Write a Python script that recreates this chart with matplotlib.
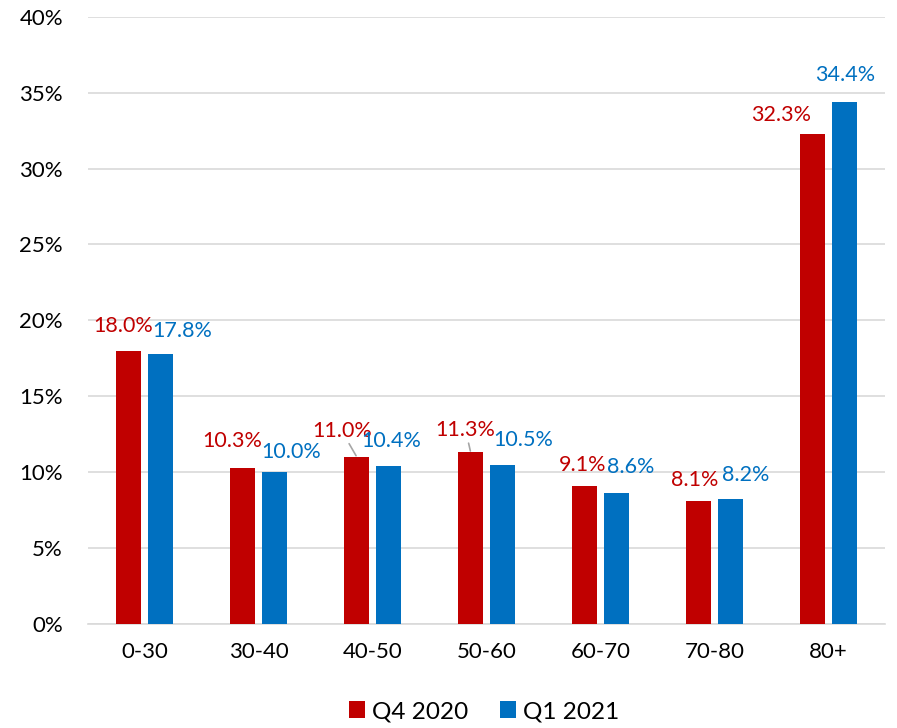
import numpy as np
import matplotlib
matplotlib.use("Agg")
import matplotlib.pyplot as plt

plt.rcParams['font.family'] = ['Lato', 'DejaVu Sans']

# data
categories = ['0-30', '30-40', '40-50', '50-60', '60-70', '70-80', '80+']
q4_2020 = [18.0, 10.3, 11.0, 11.3, 9.1, 8.1, 32.3]
q1_2021 = [17.8, 10.0, 10.4, 10.5, 8.6, 8.2, 34.4]

RED = '#C00000'
BLUE = '#0070C0'

# label offsets in pixels (dx, dy) relative to the bar top, tuned by eye
q4_offsets = [(-6, 25), (-11, 27), (-15, 26), (-5, 22), (-2, 21), (-4, 21), (-31, 19)]
q1_offsets = [(21, 23), (16, 20), (3, 25), (21, 25), (14, 26), (15, 24), (1, 27)]
leader = [False, False, True, True, False, False, False]

fig = plt.figure(figsize=(8.97, 7.28), dpi=100)
ax = fig.add_axes([0.098, 0.143, 0.889, 0.834])

x = np.arange(len(categories))
w = 0.22
off = 0.14
b1 = ax.bar(x - off, q4_2020, w, color=RED, label='Q4 2020', zorder=3)
b2 = ax.bar(x + off, q1_2021, w, color=BLUE, label='Q1 2021', zorder=3)

for i in range(len(categories)):
    dx, dy = q4_offsets[i]
    kw = {}
    if leader[i]:
        kw['arrowprops'] = dict(arrowstyle='-', color='#A6A6A6', lw=1.2,
                                shrinkA=0, shrinkB=1)
    ax.annotate('%.1f%%' % q4_2020[i], xy=(x[i] - off, q4_2020[i]),
                xytext=(dx, dy), textcoords='offset pixels',
                ha='center', va='center', color=RED, fontsize=15.5, **kw)
    dx, dy = q1_offsets[i]
    ax.annotate('%.1f%%' % q1_2021[i], xy=(x[i] + off, q1_2021[i]),
                xytext=(dx, dy), textcoords='offset pixels',
                ha='center', va='center', color=BLUE, fontsize=15.5)

ax.set_xlim(-0.5, len(categories) - 0.5)
ax.set_ylim(0, 40)
ax.set_yticks(np.arange(0, 41, 5))
ax.set_yticklabels(['%d%%' % v for v in range(0, 41, 5)])
ax.set_xticks(x)
ax.set_xticklabels(categories)
ax.tick_params(axis='both', length=0, labelsize=16, colors='black')
ax.tick_params(axis='y', pad=18)
ax.tick_params(axis='x', pad=13)
ax.grid(axis='y', color='#D9D9D9', lw=1.2, zorder=0)
for s in ['top', 'right', 'left']:
    ax.spines[s].set_visible(False)
ax.spines['bottom'].set_color('#D9D9D9')
ax.spines['bottom'].set_linewidth(1.2)

fig.legend(handles=[b1, b2], loc='lower center', bbox_to_anchor=(0.54, -0.022),
           ncol=2, frameon=False, fontsize=17.5, handlelength=0.65,
           handleheight=0.65, handletextpad=0.3, columnspacing=1.3)

fig.savefig('out.png', dpi=100)
